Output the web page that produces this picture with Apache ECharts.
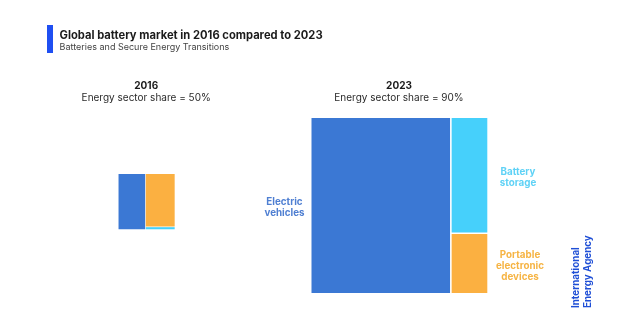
<!DOCTYPE html>
<html>
<head>
<meta charset="utf-8">
<script src="https://cdn.jsdelivr.net/npm/echarts@6/dist/echarts.min.js"></script>
<style>html,body{margin:0;padding:0;background:#fff;}#c{width:641px;height:331px;}</style>
</head>
<body>
<div id="c"></div>
<script>
// ---- data ----
const categories = ['Electric vehicles', 'Battery storage', 'Portable electronic devices'];
const years = ['2016', '2023'];
const energyShare = ['50%', '90%'];
const values2016 = [48, 2.5, 49.5];
const values2023 = [790, 138, 72];
const layoutOrder2016 = [0, 2, 1];
const layoutOrder2023 = [0, 1, 2];

// ---- styles ----
const colors = ['#3b78d4', '#46d0fb', '#fbb041'];
const labelColors = ['#4f7fd2', '#5fd2f6', '#f6b444'];
const FONT = 'Inter, "Noto Sans", sans-serif';

const chart = echarts.init(document.getElementById('c'), null, {renderer: 'canvas'});

const yearValues = [values2016, values2023];
const orders = [layoutOrder2016, layoutOrder2023];
const totals = yearValues.map(v => v.reduce((a, b) => a + b, 0));
const maxTotal = Math.max.apply(null, totals);
const maxSide = 175;
const centers = [[146.2, 201.6], [399, 205.5]];

const series = yearValues.map((vals, yi) => {
  const side = maxSide * Math.sqrt(totals[yi] / maxTotal);
  return {
    type: 'treemap',
    left: centers[yi][0] - side / 2,
    top: centers[yi][1] - side / 2,
    width: side + 0.8,
    height: side,
    sort: false,
    squareRatio: 0.5,
    roam: false,
    nodeClick: false,
    silent: true,
    animation: false,
    breadcrumb: {show: false},
    label: {show: false},
    upperLabel: {show: false},
    emphasis: {disabled: true},
    itemStyle: {gapWidth: yi === 0 ? 0.6 : 1.6, borderWidth: 0, borderColor: '#fff'},
    data: orders[yi].map(ci => ({
      name: categories[ci],
      value: vals[ci],
      itemStyle: {color: colors[ci]}
    }))
  };
});

const graphics = [
  {type: 'rect', shape: {x: 47, y: 25, width: 6, height: 28}, style: {fill: '#1f4ff2'}},
  {type: 'text', x: 59.5, y: 35.5, style: {text: 'Global battery market in 2016 compared to 2023', font: 'bold 11.2px ' + FONT, fill: '#1b1b1b', textVerticalAlign: 'middle'}},
  {type: 'text', x: 59.5, y: 46.8, style: {text: 'Batteries and Secure Energy Transitions', font: '9px ' + FONT, fill: '#444', textVerticalAlign: 'middle'}}
];
years.forEach((y, yi) => {
  const cx = centers[yi][0];
  graphics.push({type: 'text', x: cx, y: 86, style: {text: y, font: 'bold 10px ' + FONT, fill: '#1b1b1b', textAlign: 'center', textVerticalAlign: 'middle'}});
  graphics.push({type: 'text', x: cx, y: 97.7, style: {text: 'Energy sector share = ' + energyShare[yi], font: '10px ' + FONT, fill: '#2a2a2a', textAlign: 'center', textVerticalAlign: 'middle'}});
});
graphics.push({type: 'text', x: 284.5, y: 207.5, style: {text: 'Electric\nvehicles', font: 'bold 9.8px ' + FONT, lineHeight: 11, fill: labelColors[0], textAlign: 'center', textVerticalAlign: 'middle'}});
graphics.push({type: 'text', x: 518, y: 177.5, style: {text: 'Battery\nstorage', font: 'bold 9.8px ' + FONT, lineHeight: 11.5, fill: labelColors[1], textAlign: 'center', textVerticalAlign: 'middle'}});
graphics.push({type: 'text', x: 520, y: 266.2, style: {text: 'Portable\nelectronic\ndevices', font: 'bold 9.8px ' + FONT, lineHeight: 11.2, fill: labelColors[2], textAlign: 'center', textVerticalAlign: 'middle'}});
graphics.push({type: 'text', x: 582, y: 308, rotation: Math.PI / 2, style: {text: 'International\nEnergy Agency', font: 'bold 9.8px ' + FONT, lineHeight: 12, fill: '#1f4fd6', textAlign: 'left', textVerticalAlign: 'middle'}});

chart.setOption({
  backgroundColor: '#fff',
  animation: false,
  tooltip: {show: false},
  graphic: graphics,
  series: series
});
</script>
</body>
</html>
